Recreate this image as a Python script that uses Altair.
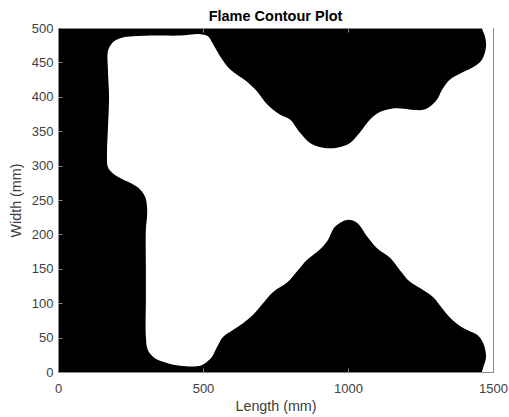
import altair as alt
import pandas as pd

# Outline of the unburnt (white) zone in mm, walked once around the region.
# The first/last corners sit just outside the frame and are clipped away.
edge_x = [1540, 1540, 1460, 1462, 1472, 1476, 1462, 1431, 1397, 1352, 1324, 1307,
          1283, 1259, 1179, 1155, 1110, 1076, 1041, 1007, 962, 914, 869, 834,
          800, 766, 721, 686, 652, 593, 559, 534, 517, 490, 421, 341,
          259, 221, 197, 183, 172, 172, 176, 172, 169, 172, 186, 214,
          248, 276, 300, 307, 307, 303, 303, 303, 303, 310, 334, 376,
          421, 490, 514, 531, 548, 569, 603, 638, 672, 707, 741, 790,
          824, 859, 903, 931, 955, 997, 1031, 1066, 1100, 1145, 1179, 1214,
          1248, 1293, 1324, 1352, 1397, 1445, 1466, 1476, 1466, 1462, 1460]
edge_y = [-20, 520, 520, 500, 488, 473, 454, 443, 436, 425, 410, 396,
          386, 381, 383, 383, 378, 367, 348, 333, 326, 326, 333, 348,
          367, 374, 389, 408, 422, 440, 459, 477, 488, 491, 489, 489,
          488, 486, 482, 476, 466, 440, 400, 352, 319, 298, 290, 282,
          275, 268, 255, 240, 226, 207, 153, 105, 51, 32, 20, 13,
          9, 9, 15, 22, 36, 51, 61, 71, 83, 100, 116, 130,
          146, 163, 178, 192, 211, 221, 217, 197, 180, 166, 148, 131,
          122, 109, 93, 79, 64, 54, 42, 22, 6, 0, -20]

x_ticks = [0, 500, 1000, 1500]
y_ticks = [0, 50, 100, 150, 200, 250, 300, 350, 400, 450, 500]

df = pd.DataFrame({"x": edge_x, "y": edge_y, "i": list(range(len(edge_x)))})

FONT = "Liberation Sans"
FRAME = "#8a8a8a"
TEXT = "#404040"

x_scale = alt.Scale(domain=[0, 1500], nice=False, zero=False)
y_scale = alt.Scale(domain=[0, 500], nice=False, zero=False)

common_axis = dict(grid=False, domain=False, tickColor=FRAME, tickWidth=1,
                   labelFont=FONT, labelFontSize=13, labelColor=TEXT,
                   titleFont=FONT, titleFontSize=14.3, titleFontWeight="normal",
                   titleColor=TEXT, labelOverlap=False, labelBound=False,
                   labelFlush=False)

# Filled outline; the open ends lie outside the frame, so the closing edge is clipped
region = alt.Chart(df).mark_line(
    filled=True, color="white", interpolate="catmull-rom", clip=True
).encode(
    x=alt.X("x:Q", scale=x_scale, title="Length (mm)",
            axis=alt.Axis(orient="bottom", values=x_ticks, format="d",
                          offset=-4, tickSize=4, labelPadding=10,
                          titlePadding=4, **common_axis)),
    y=alt.Y("y:Q", scale=y_scale, title="Width (mm)",
            axis=alt.Axis(orient="left", values=y_ticks, format="d",
                          offset=-4, tickSize=4, labelPadding=5,
                          titlePadding=8, **common_axis)),
    order=alt.Order("i:Q"),
)

# Inward ticks on the top and right edges of the box
frame_ticks = alt.Chart(df).mark_line(opacity=0).encode(
    x=alt.X("x:Q", scale=x_scale, title=None,
            axis=alt.Axis(orient="top", values=x_ticks, labels=False,
                          offset=-4, tickSize=4, **common_axis)),
    y=alt.Y("y:Q", scale=y_scale, title=None,
            axis=alt.Axis(orient="right", values=y_ticks, labels=False,
                          offset=-4, tickSize=4, **common_axis)),
    order=alt.Order("i:Q"),
)

chart = alt.layer(region, frame_ticks).resolve_axis(
    x="independent", y="independent"
).properties(
    width=435,
    height=344,
    title=alt.TitleParams("Flame Contour Plot", font=FONT, fontSize=14.5,
                          fontWeight="bold", color="black", anchor="middle",
                          offset=6, dy=16),
    autosize=alt.AutoSizeParams(type="none"),
    padding={"left": 58, "top": 28, "right": 16, "bottom": 45},
    background="white",
).configure_view(fill="black", stroke=FRAME, strokeWidth=1)

chart.save("out.html", embed_options={"renderer": "svg", "actions": False})
